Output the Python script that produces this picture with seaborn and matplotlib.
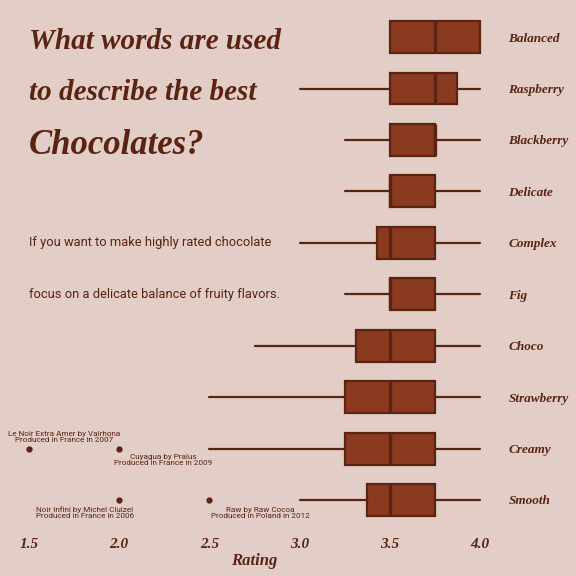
import matplotlib
matplotlib.use("Agg")
import matplotlib.pyplot as plt
import seaborn as sns

# ---- data ----
categories = ["Balanced", "Raspberry", "Blackberry", "Delicate", "Complex",
              "Fig", "Choco", "Strawberry", "Creamy", "Smooth"]
whisker_low = [3.5, 3.0, 3.25, 3.25, 3.0, 3.25, 2.75, 2.5, 2.5, 3.0]
q1_values = [3.5, 3.5, 3.5, 3.5, 3.43, 3.5, 3.31, 3.25, 3.25, 3.375]
medians = [3.75, 3.75, 3.75, 3.5, 3.5, 3.5, 3.5, 3.5, 3.5, 3.5]
q3_values = [4.0, 3.875, 3.75, 3.75, 3.75, 3.75, 3.75, 3.75, 3.75, 3.75]
whisker_high = [4.0, 4.0, 4.0, 4.0, 4.0, 4.0, 4.0, 4.0, 4.0, 4.0]
outliers = [[], [], [], [], [], [], [], [], [1.5, 2.0], [2.0, 2.5]]

outlier_notes_x = [1.5, 2.0, 2.0, 2.5]
outlier_notes_cat = ["Creamy", "Creamy", "Smooth", "Smooth"]
outlier_notes_text = ["Le Noir Extra Amer by Valrhona\nProduced in France in 2007",
                      "Cuyagua by Pralus\nProduced in France in 2009",
                      "Noir Infini by Michel Cluizel\nProduced in France in 2006",
                      "Raw by Raw Cocoa\nProduced in Poland in 2012"]
note_text_x = [1.697, 2.243, 1.81, 2.78]
note_text_dy = [-0.22, 0.22, 0.25, 0.25]

xticks = [1.5, 2.0, 2.5, 3.0, 3.5, 4.0]

# ---- style ----
BG = "#e2cdc7"
FILL = "#8a3a1e"
DARK = "#5a2312"
SCRIPT = "Liberation Serif"

sns.set_theme(style="white")
plt.rcParams["font.family"] = ["Roboto", "DejaVu Sans"]

fig = plt.figure(figsize=(5.76, 5.76), dpi=100, facecolor=BG)
ax = fig.add_axes([20 / 576, 0.0873, 469 / 576, 0.893])
ax.set_facecolor(BG)

stats = []
for i, c in enumerate(categories):
    stats.append(dict(label=c, whislo=whisker_low[i], q1=q1_values[i], med=medians[i],
                      q3=q3_values[i], whishi=whisker_high[i], fliers=outliers[i]))

ax.bxp(stats, positions=list(range(len(categories))), vert=False, widths=0.62,
       patch_artist=True, showcaps=False,
       boxprops=dict(facecolor=FILL, edgecolor=DARK, linewidth=1.6),
       medianprops=dict(color=DARK, linewidth=2.4),
       whiskerprops=dict(color=DARK, linewidth=1.6),
       flierprops=dict(marker="o", markerfacecolor=DARK, markeredgecolor=DARK,
                       markersize=3.5))

ax.set_xlim(1.45, 4.05)
ax.set_ylim(len(categories) - 0.5, -0.5)
ax.set_yticks(range(len(categories)))
ax.set_yticklabels(categories)
ax.yaxis.tick_right()
ax.set_xticks(xticks)
ax.set_xticklabels([f"{t:.1f}" for t in xticks])
ax.tick_params(axis="y", length=0, pad=14, labelsize=9.5, colors=DARK)
ax.tick_params(axis="x", length=0, pad=9, labelsize=11, colors=DARK)
for lab in ax.get_yticklabels() + ax.get_xticklabels():
    lab.set_fontfamily(SCRIPT)
    lab.set_fontweight("bold")
    lab.set_fontstyle("italic")
ax.set_xlabel("Rating", fontsize=12, color=DARK, family=SCRIPT, fontweight="bold",
              style="italic", labelpad=1)
ax.set_ylabel("")
sns.despine(ax=ax, left=True, bottom=True, right=True, top=True)
ax.grid(False)

# annotations for outliers
for x, cat, txt, tx, dy in zip(outlier_notes_x, outlier_notes_cat, outlier_notes_text,
                               note_text_x, note_text_dy):
    yi = categories.index(cat)
    ax.text(tx, yi + dy, txt, ha="center", va="center", fontsize=5.9, color=DARK,
            linespacing=0.95)

# title and subtitle
ax.text(1.5, 0.08, "What words are used", fontsize=21, color=DARK, family=SCRIPT,
        fontweight="bold", style="italic", va="center", ha="left")
ax.text(1.5, 1.08, "to describe the best", fontsize=21, color=DARK, family=SCRIPT,
        fontweight="bold", style="italic", va="center", ha="left")
ax.text(1.5, 2.1, "Chocolates?", fontsize=25, color=DARK, family=SCRIPT,
        fontweight="bold", style="italic", va="center", ha="left")
ax.text(1.5, 4.0, "If you want to make highly rated chocolate", fontsize=9.3,
        color=DARK, va="center", ha="left")
ax.text(1.5, 5.0, "focus on a delicate balance of fruity flavors.", fontsize=9.3,
        color=DARK, va="center", ha="left")

fig.savefig("out.png", dpi=100, facecolor=BG)
